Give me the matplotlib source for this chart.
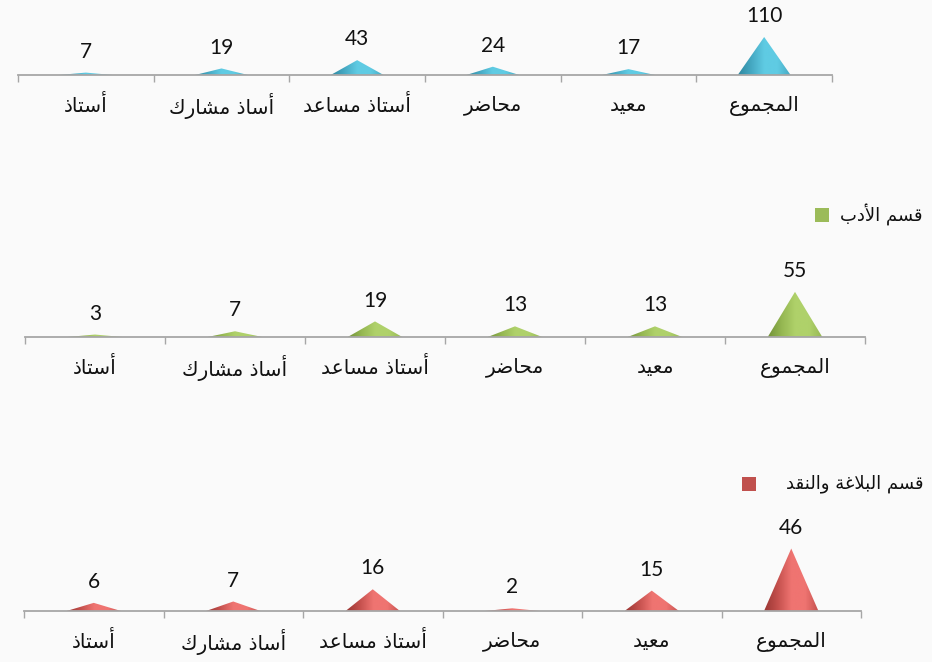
import numpy as np
import matplotlib
matplotlib.use("Agg")
import matplotlib.pyplot as plt
from matplotlib.colors import LinearSegmentedColormap
from matplotlib.patches import Polygon, Rectangle

# categories (logical Arabic order, drawn left to right as in the picture)
categories = ["أستاذ", "أساذ مشارك", "أستاذ مساعد", "محاضر", "معيد", "المجموع"]

# the three departments, top to bottom
dept_names = [None, "قسم الأدب", "قسم البلاغة والنقد"]
values_top = [7, 19, 43, 24, 17, 110]
values_adab = [3, 7, 19, 13, 13, 55]
values_balagha = [6, 7, 16, 2, 15, 46]

# base / light / dark shades per series
cone_colors = [
    ("#45a8c2", "#5fcbe3", "#2f88a0"),
    ("#95b752", "#afd16a", "#739338"),
    ("#c4504d", "#ef7471", "#9a3633"),
]
legend_colors = ["#4BACC6", "#9BBB59", "#C0504D"]

W, H = 932, 662
BG = "#fafafa"

# ---- minimal Arabic shaping (presentation forms), no external libs ----
FORMS = {
    "ا": ("\ufe8d", "\ufe8e", None, None),
    "أ": ("\ufe83", "\ufe84", None, None),
    "ب": ("\ufe8f", "\ufe90", "\ufe91", "\ufe92"),
    "ة": ("\ufe93", "\ufe94", None, None),
    "ت": ("\ufe95", "\ufe96", "\ufe97", "\ufe98"),
    "ج": ("\ufe9d", "\ufe9e", "\ufe9f", "\ufea0"),
    "ح": ("\ufea1", "\ufea2", "\ufea3", "\ufea4"),
    "د": ("\ufea9", "\ufeaa", None, None),
    "ذ": ("\ufeab", "\ufeac", None, None),
    "ر": ("\ufead", "\ufeae", None, None),
    "س": ("\ufeb1", "\ufeb2", "\ufeb3", "\ufeb4"),
    "ش": ("\ufeb5", "\ufeb6", "\ufeb7", "\ufeb8"),
    "ض": ("\ufebd", "\ufebe", "\ufebf", "\ufec0"),
    "ع": ("\ufec9", "\ufeca", "\ufecb", "\ufecc"),
    "غ": ("\ufecd", "\ufece", "\ufecf", "\ufed0"),
    "ق": ("\ufed5", "\ufed6", "\ufed7", "\ufed8"),
    "ك": ("\ufed9", "\ufeda", "\ufedb", "\ufedc"),
    "ل": ("\ufedd", "\ufede", "\ufedf", "\ufee0"),
    "م": ("\ufee1", "\ufee2", "\ufee3", "\ufee4"),
    "ن": ("\ufee5", "\ufee6", "\ufee7", "\ufee8"),
    "و": ("\ufeed", "\ufeee", None, None),
    "ي": ("\ufef1", "\ufef2", "\ufef3", "\ufef4"),
}
LAM_ALEF = {"ا": ("\ufefb", "\ufefc"), "أ": ("\ufef7", "\ufef8")}


def joins_next(ch):
    return ch in FORMS and FORMS[ch][2] is not None


def shape(text):
    out = []
    i = 0
    n = len(text)
    while i < n:
        ch = text[i]
        if ch not in FORMS:
            out.append(ch)
            i += 1
            continue
        prev = text[i - 1] if i > 0 else None
        nxt = text[i + 1] if i + 1 < n else None
        has_prev = prev is not None and joins_next(prev)
        if ch == "ل" and nxt in LAM_ALEF:
            out.append(LAM_ALEF[nxt][1 if has_prev else 0])
            i += 2
            continue
        has_next = joins_next(ch) and nxt in FORMS
        iso, fin, ini, med = FORMS[ch]
        if has_prev and has_next:
            out.append(med)
        elif has_prev:
            out.append(fin)
        elif has_next:
            out.append(ini)
        else:
            out.append(iso)
        i += 1
    return "".join(reversed(out))


def draw_cone(ax, x, h, width, shades):
    base, light, dark = shades
    cmap = LinearSegmentedColormap.from_list("c", [dark, base, light, light, base])
    grad = np.linspace(0, 1, 256).reshape(1, -1)
    tri = Polygon([[x - width / 2, 0], [x + width / 2, 0], [x, h]], closed=True,
                  facecolor="none", edgecolor="none")
    ax.add_patch(tri)
    im = ax.imshow(grad, cmap=cmap, extent=[x - width / 2, x + width / 2, 0, h],
                   aspect="auto", origin="lower", zorder=2)
    im.set_clip_path(tri)


fig = plt.figure(figsize=(W / 100, H / 100), dpi=100)
fig.patch.set_facecolor(BG)

# panel layout in pixels: left, right, top, axis line y, y max
panels = [
    (18, 832, 0, 75, 217),
    (25, 865, 250, 337, 106),
    (24, 861, 520, 611, 67),
]
series = [values_top, values_adab, values_balagha]

for k, (left, right, top, bottom, ymax) in enumerate(panels):
    ax = fig.add_axes([left / W, 1 - bottom / H, (right - left) / W, (bottom - top) / H])
    ax.set_facecolor("none")
    ax.set_xlim(-0.5, len(categories) - 0.5)
    ax.set_ylim(0, ymax)
    for s in ("top", "left", "right"):
        ax.spines[s].set_visible(False)
    ax.spines["bottom"].set_color("#a6a6a6")
    ax.spines["bottom"].set_linewidth(1.3)
    ax.set_yticks([])
    ax.set_xticks(np.arange(-0.5, len(categories)), labels=[])
    ax.tick_params(axis="x", length=5, width=1, color="#a6a6a6", direction="out")

    for i, v in enumerate(series[k]):
        draw_cone(ax, i, v, 0.39, cone_colors[k])
        ax.annotate(str(v), (i, v), xytext=(0, 15), textcoords="offset points",
                    ha="center", va="center", fontsize=15, family="Lato", color="#111111")
        ax.annotate(shape(categories[i]), (i, 0), xytext=(0, -22), textcoords="offset points",
                    ha="center", va="center", fontsize=14.5, family="DejaVu Sans", color="#111111")

# legends for the lower two panels
legend_boxes = [None, (815, 208), (742, 477)]
for k in (1, 2):
    sx, sy = legend_boxes[k]
    fig.patches.append(Rectangle((sx / W, 1 - (sy + 14) / H), 14 / W, 14 / H,
                                 transform=fig.transFigure, facecolor=legend_colors[k],
                                 edgecolor="none"))
    fig.text(923 / W, 1 - (sy + 7) / H, shape(dept_names[k]), ha="right", va="center",
             fontsize=13, family="DejaVu Sans", color="#111111")

fig.savefig("out.png", dpi=100, facecolor=BG)
